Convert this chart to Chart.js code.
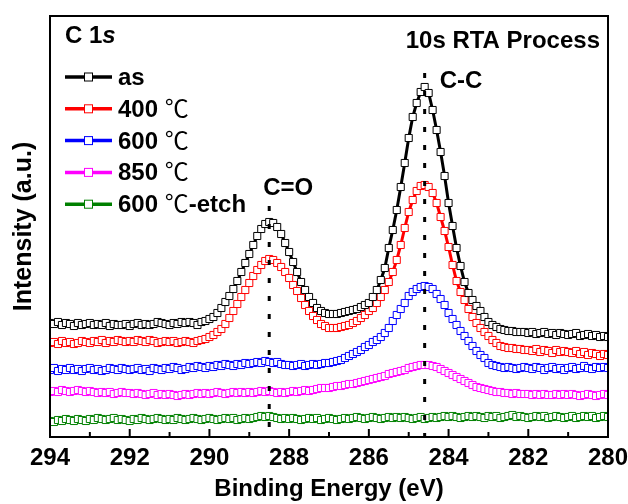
<!DOCTYPE html>
<html>
<head>
<meta charset="utf-8">
<script src="https://cdn.jsdelivr.net/npm/chart.js@4.4.0/dist/chart.umd.min.js"></script>
<style>
html, body { margin: 0; padding: 0; background: #fff; }
</style>
</head>
<body>
<canvas id="Chart" width="628" height="504"></canvas>
<script>
// binding energy (eV), 0.1 eV step
const energy = [
  294.0, 293.9, 293.8, 293.7, 293.6, 293.5, 293.4, 293.3, 293.2, 293.1,
  293.0, 292.9, 292.8, 292.7, 292.6, 292.5, 292.4, 292.3, 292.2, 292.1,
  292.0, 291.9, 291.8, 291.7, 291.6, 291.5, 291.4, 291.3, 291.2, 291.1,
  291.0, 290.9, 290.8, 290.7, 290.6, 290.5, 290.4, 290.3, 290.2, 290.1,
  290.0, 289.9, 289.8, 289.7, 289.6, 289.5, 289.4, 289.3, 289.2, 289.1,
  289.0, 288.9, 288.8, 288.7, 288.6, 288.5, 288.4, 288.3, 288.2, 288.1,
  288.0, 287.9, 287.8, 287.7, 287.6, 287.5, 287.4, 287.3, 287.2, 287.1,
  287.0, 286.9, 286.8, 286.7, 286.6, 286.5, 286.4, 286.3, 286.2, 286.1,
  286.0, 285.9, 285.8, 285.7, 285.6, 285.5, 285.4, 285.3, 285.2, 285.1,
  285.0, 284.9, 284.8, 284.7, 284.6, 284.5, 284.4, 284.3, 284.2, 284.1,
  284.0, 283.9, 283.8, 283.7, 283.6, 283.5, 283.4, 283.3, 283.2, 283.1,
  283.0, 282.9, 282.8, 282.7, 282.6, 282.5, 282.4, 282.3, 282.2, 282.1,
  282.0, 281.9, 281.8, 281.7, 281.6, 281.5, 281.4, 281.3, 281.2, 281.1,
  281.0, 280.9, 280.8, 280.7, 280.6, 280.5, 280.4, 280.3, 280.2, 280.1,
  280.0
];

const seriesNames = ['as', '400 ℃', '600 ℃', '850 ℃', '600 ℃-etch'];
const seriesColors = ['#000000', '#ff0000', '#0000ff', '#ff00ff', '#008000'];

// intensity (a.u.), offset stacked as in the figure
const asValues = [
  114, 113, 115, 112, 114, 113, 111, 114, 112, 113,
  114, 112, 113, 112, 114, 111, 113, 112, 112, 113,
  111, 113, 114, 112, 113, 112, 113, 115, 114, 113,
  112, 114, 113, 115, 114, 115, 114, 112, 115, 116,
  118, 120, 124, 129, 135, 141, 148, 156, 165, 174,
  183, 192, 201, 208, 213, 215, 214, 210, 203, 194,
  185, 175, 165, 155, 147, 140, 134, 129, 126, 124,
  123, 123, 123, 124, 125, 126, 127, 128, 130, 132,
  134, 140, 147, 157, 169, 189, 207, 227, 250, 274,
  299, 320, 334, 345, 350, 344, 327, 307, 285, 261,
  234, 211, 189, 171, 155, 144, 137, 131, 126, 120,
  115, 112, 110, 108, 107, 106, 106, 105, 105, 105,
  104, 105, 103, 104, 105, 103, 104, 102, 104, 103,
  102, 103, 104, 101, 102, 103, 101, 102, 100, 101,
  100
];
const values400 = [
  94, 95, 93, 96, 94, 95, 93, 94, 96, 95,
  94, 96, 95, 97, 94, 96, 95, 97, 96, 95,
  96, 95, 97, 96, 95, 97, 96, 94, 95, 96,
  95, 96, 94, 95, 96, 95, 94, 96, 97, 98,
  100, 102, 105, 108, 113, 119, 126, 133, 140, 147,
  154, 161, 167, 172, 176, 178, 177, 174, 170, 165,
  159, 152, 146, 139, 132, 126, 121, 117, 113, 111,
  109, 109, 109, 110, 111, 112, 114, 116, 119, 122,
  126, 129, 134, 140, 147, 155, 165, 177, 192, 209,
  225, 237, 246, 251, 252, 250, 244, 234, 220, 206,
  190, 172, 156, 145, 137, 128, 120, 114, 109, 105,
  101, 97, 94, 91, 90, 89, 89, 88, 88, 87,
  87, 86, 88, 85, 87, 86, 84, 87, 85, 86,
  85, 84, 86, 83, 85, 82, 84, 83, 81, 83,
  82
];
const values600 = [
  67, 69, 66, 68, 67, 69, 67, 68, 66, 68,
  69, 67, 68, 66, 67, 69, 68, 67, 69, 68,
  67, 68, 69, 67, 68, 66, 69, 68, 67, 69,
  68, 70, 69, 67, 68, 70, 69, 71, 70, 69,
  71, 70, 72, 71, 73, 72, 71, 73, 72, 74,
  73, 74, 75, 74, 76, 75, 74, 75, 73, 72,
  72, 71, 72, 73, 71, 72, 73, 72, 73, 74,
  74, 75, 76, 77, 79, 81, 83, 85, 87, 90,
  92, 95, 97, 100, 104, 109, 116, 122, 128, 134,
  141, 145, 148, 150, 151, 150, 148, 143, 138, 132,
  124, 118, 112, 106, 101, 96, 91, 86, 82, 79,
  74, 72, 71, 70, 69, 70, 69, 68, 69, 70,
  69, 68, 70, 69, 67, 69, 70, 68, 69, 67,
  69, 70, 68, 69, 71, 69, 68, 70, 69, 70,
  69
];
const values850 = [
  45, 46, 45, 47, 46, 45, 46, 47, 46, 45,
  46, 45, 44, 45, 44, 45, 43, 44, 45, 44,
  44, 43, 44, 43, 42, 43, 44, 42, 43, 42,
  43, 42, 41, 42, 43, 42, 43, 44, 43, 44,
  43, 44, 45, 44, 43, 44, 45, 44, 45, 44,
  45, 44, 45, 46, 45, 46, 45, 44, 45, 44,
  45, 46, 45, 46, 47, 46, 47, 48, 49, 49,
  49, 50, 51, 51, 52, 53, 53, 54, 55, 56,
  57, 58, 59, 60, 61, 63, 64, 65, 66, 67,
  69, 70, 71, 72, 72, 72, 71, 70, 68, 66,
  64, 62, 60, 58, 56, 54, 52, 50, 49, 48,
  47, 46, 45, 45, 44, 44, 43, 44, 43, 43,
  43, 42, 43, 42, 43, 42, 42, 43, 42, 43,
  42, 43, 42, 41, 42, 43, 42, 41, 42, 43,
  42
];
const valuesEtch = [
  16, 15, 17, 16, 18, 17, 16, 18, 17, 16,
  18, 17, 19, 18, 17, 18, 19, 17, 18, 17,
  16, 18, 17, 19, 18, 17, 18, 19, 18, 17,
  18, 17, 19, 18, 17, 18, 19, 18, 17, 18,
  19, 18, 17, 18, 19, 18, 19, 17, 18, 19,
  18, 19, 20, 21, 20, 21, 20, 19, 18, 19,
  18, 19, 18, 17, 18, 19, 18, 19, 17, 18,
  19, 18, 17, 18, 19, 18, 19, 20, 19, 18,
  19, 20, 19, 18, 19, 20, 19, 20, 19, 20,
  19, 18, 19, 20, 18, 19, 20, 19, 20, 21,
  20, 21, 20, 19, 20, 21, 20, 21, 20, 19,
  21, 20, 21, 19, 20, 21, 22, 20, 21, 20,
  19, 20, 21, 20, 21, 19, 20, 21, 20, 19,
  20, 21, 19, 20, 21, 20, 21, 19, 20, 21,
  20
];

// peak positions (eV)
const peakCO = 288.5;
const peakCC = 284.6;

const FONT = "'Liberation Sans', Arial, sans-serif";
const allValues = [asValues, values400, values600, values850, valuesEtch];

const datasets = allValues.map((vals, k) => ({
  label: seriesNames[k],
  data: energy.map((e, i) => ({ x: e, y: vals[i] })),
  borderColor: seriesColors[k],
  borderWidth: 3,
  pointStyle: 'rect',
  pointRadius: 5,
  pointBorderWidth: 1,
  pointBorderColor: seriesColors[k],
  pointBackgroundColor: '#ffffff',
  tension: 0
}));

function drawParts(ctx, x, y, parts) {
  parts.forEach(p => {
    ctx.font = p.font;
    ctx.fillText(p.text, x, y);
    x += ctx.measureText(p.text).width;
  });
}

const decor = {
  id: 'decor',
  afterDatasetsDraw(chart) {
    const ctx = chart.ctx;
    const xs = chart.scales.x;
    const a = chart.chartArea;
    ctx.save();
    ctx.strokeStyle = '#000';
    ctx.lineWidth = 3;
    ctx.setLineDash([5, 13]);
    ctx.beginPath();
    const xo = xs.getPixelForValue(peakCO);
    ctx.moveTo(xo, 206);
    ctx.lineTo(xo, a.bottom);
    const xc = xs.getPixelForValue(peakCC);
    ctx.moveTo(xc, 73);
    ctx.lineTo(xc, a.bottom);
    ctx.stroke();
    ctx.restore();
  },
  afterDraw(chart) {
    const ctx = chart.ctx;
    const xs = chart.scales.x;
    const a = chart.chartArea;
    ctx.save();
    // frame
    ctx.strokeStyle = '#000';
    ctx.lineWidth = 2;
    ctx.strokeRect(a.left, a.top, a.right - a.left, a.bottom - a.top);
    // inward ticks
    for (let v = 280; v <= 294; v++) {
      const px = xs.getPixelForValue(v);
      const len = v % 2 === 0 ? 8 : 5;
      ctx.beginPath();
      ctx.moveTo(px, a.bottom);
      ctx.lineTo(px, a.bottom - len);
      ctx.stroke();
    }
    ctx.fillStyle = '#000';
    ctx.textBaseline = 'alphabetic';
    // titles in the plot
    drawParts(ctx, 65, 43, [
      { text: 'C 1', font: 'bold 24px ' + FONT },
      { text: 's', font: 'italic bold 24px ' + FONT }
    ]);
    ctx.textAlign = 'right';
    ctx.font = 'bold 24px ' + FONT;
    ctx.fillText('10s RTA Process', 600, 48);
    ctx.textAlign = 'left';
    ctx.fillText('C-C', xs.getPixelForValue(peakCC) + 15, 88);
    ctx.fillText('C=O', xs.getPixelForValue(peakCO) - 6, 195);
    // legend
    seriesNames.forEach((name, k) => {
      const cy = 77 + k * 31.8;
      ctx.strokeStyle = seriesColors[k];
      ctx.lineWidth = 3.5;
      ctx.beginPath();
      ctx.moveTo(65, cy);
      ctx.lineTo(112, cy);
      ctx.stroke();
      ctx.fillStyle = '#fff';
      ctx.fillRect(84.5, cy - 4, 8, 8);
      ctx.lineWidth = 1;
      ctx.strokeRect(84.5, cy - 4, 8, 8);
      ctx.fillStyle = '#000';
      const bits = name.split('℃');
      const parts = [{ text: bits[0], font: 'bold 24px ' + FONT }];
      if (bits.length > 1) {
        parts.push({ text: '℃', font: "24px 'Noto Sans CJK SC', 'DejaVu Sans', sans-serif" });
        parts.push({ text: bits[1], font: 'bold 24px ' + FONT });
      }
      drawParts(ctx, 118, cy + 8, parts);
    });
    ctx.restore();
  }
};

const config = {
  type: 'line',
  data: { datasets: datasets },
  options: {
    responsive: false,
    animation: false,
    devicePixelRatio: 1,
    layout: { padding: { top: 16, right: 0, left: 0, bottom: 0 } },
    plugins: { legend: { display: false }, tooltip: { enabled: false } },
    scales: {
      x: {
        type: 'linear',
        reverse: true,
        min: 280,
        max: 294,
        afterFit: s => { s.height = 67; s.paddingLeft = 20; s.paddingRight = 20; },
        border: { display: false },
        grid: { display: false, drawTicks: false, tickLength: 0 },
        ticks: { stepSize: 2, padding: 7, color: '#000', maxRotation: 0, font: { family: FONT, size: 24, weight: 'bold' } },
        title: { display: true, text: 'Binding Energy (eV)', color: '#000', padding: { top: 0, bottom: 0 }, font: { family: FONT, size: 24, weight: 'bold' } }
      },
      y: {
        min: 0,
        max: 421,
        afterFit: s => { s.width = 50; },
        border: { display: false },
        grid: { display: false, drawTicks: false, tickLength: 0 },
        ticks: { display: false },
        title: { display: true, text: 'Intensity (a.u.)', color: '#000', padding: { top: 9, bottom: 0 }, font: { family: FONT, size: 25, weight: 'bold' } }
      }
    }
  },
  plugins: [decor]
};

var myChart = new Chart(document.getElementById('Chart'), config);
</script>
</body>
</html>
